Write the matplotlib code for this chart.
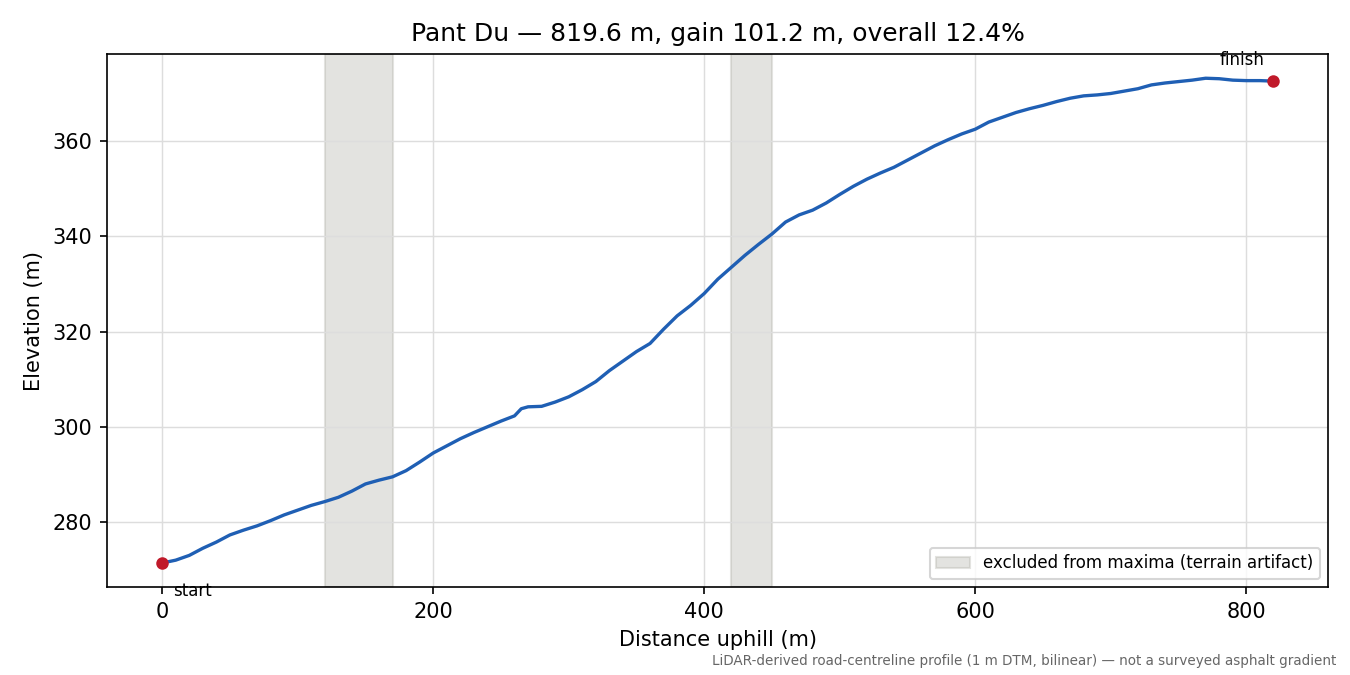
import numpy as np
import matplotlib.pyplot as plt

dist = [0, 10, 20, 30, 40, 50, 60, 70, 80, 90, 100, 110, 120, 130, 140, 150, 160, 170,
        180, 190, 200, 210, 220, 230, 240, 250, 260, 265, 270, 280, 290, 300, 310, 320,
        330, 340, 350, 360, 370, 380, 390, 400, 410, 420, 430, 440, 450, 460, 470, 480,
        490, 500, 510, 520, 530, 540, 550, 560, 570, 580, 590, 600, 610, 620, 630, 640,
        650, 660, 670, 680, 690, 700, 710, 720, 730, 740, 750, 760, 770, 780, 790, 800,
        810, 819.6]
elev = [271.4, 272.0, 273.0, 274.5, 275.8, 277.3, 278.3, 279.2, 280.3, 281.5, 282.5,
        283.5, 284.3, 285.2, 286.5, 288.0, 288.8, 289.5, 290.8, 292.6, 294.5, 296.0,
        297.5, 298.8, 300.0, 301.2, 302.3, 303.8, 304.2, 304.3, 305.2, 306.3, 307.8,
        309.5, 311.8, 313.8, 315.8, 317.5, 320.5, 323.3, 325.5, 328.0, 331.0, 333.5,
        336.0, 338.3, 340.5, 343.0, 344.5, 345.5, 347.0, 348.8, 350.5, 352.0, 353.3,
        354.5, 356.0, 357.5, 359.0, 360.3, 361.5, 362.5, 364.0, 365.0, 366.0, 366.8,
        367.5, 368.3, 369.0, 369.5, 369.7, 370.0, 370.5, 371.0, 371.8, 372.2, 372.5,
        372.8, 373.2, 373.1, 372.8, 372.7, 372.7, 372.6]
excluded = [(120, 170), (420, 450)]

fig, ax = plt.subplots(figsize=(9, 4.5), dpi=150)
for i, (a, b) in enumerate(excluded):
    ax.axvspan(a, b, color="#b0b0a8", alpha=0.35,
               label="excluded from maxima (terrain artifact)" if i == 0 else None)
ax.plot(dist, elev, color="#1f5fb4", lw=1.6)
ax.plot([dist[0], dist[-1]], [elev[0], elev[-1]], "o", color="#c0192a", ms=5)
ax.annotate("start", (dist[0], elev[0]), xytext=(5, -9), textcoords="offset points",
            fontsize=8, va="top")
ax.annotate("finish", (dist[-1], elev[-1]), xytext=(-4, 6), textcoords="offset points",
            fontsize=8, ha="right", va="bottom")
ax.grid(True, color="#dddddd", lw=0.7)
ax.set_xlabel("Distance uphill (m)")
ax.set_ylabel("Elevation (m)")
ax.set_title("Pant Du — 819.6 m, gain 101.2 m, overall 12.4%")
ax.legend(loc="lower right", fontsize=8)
fig.text(0.99, 0.01, "LiDAR-derived road-centreline profile (1 m DTM, bilinear) — not a surveyed asphalt gradient",
         ha="right", va="bottom", fontsize=6.5, color="#666666")
fig.subplots_adjust(left=0.079, right=0.984, top=0.92, bottom=0.13)
fig.savefig("out.png")
